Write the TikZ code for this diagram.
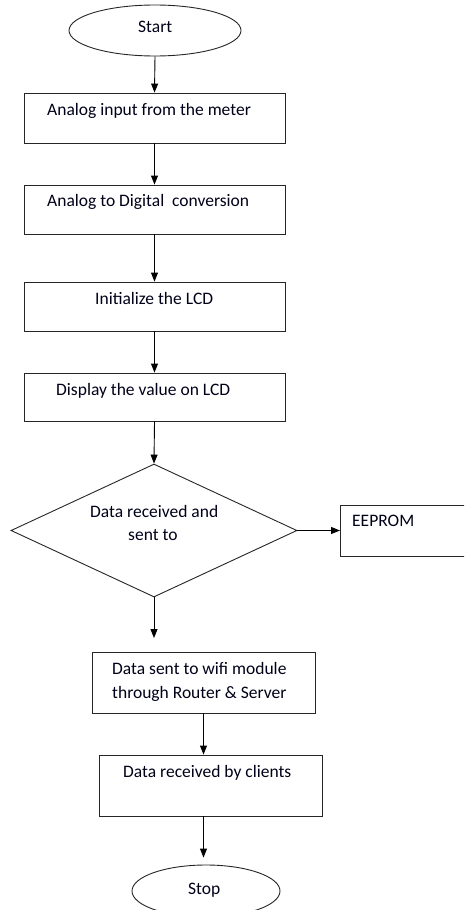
\documentclass[tikz,border=0pt]{standalone}
\usepackage{fontspec}
\setmainfont{Carlito}
\usetikzlibrary{shapes.geometric,arrows.meta}
\tikzset{
  shape line/.style={draw=black!85, line width=0.9pt},
  stepbox/.style={shape line, rectangle, inner sep=0pt},
  term/.style={shape line, ellipse, inner sep=0pt},
  decide/.style={shape line, diamond, inner sep=0pt},
  txt/.style={anchor=base west, inner sep=0pt, text=black!90!blue, font=\fontsize{17.5}{23.5}\selectfont},
  flow/.style={draw=black, line width=0.9pt, -{Triangle[width=7pt,length=9pt]}}
}
\begin{document}
\begin{tikzpicture}[x=1pt,y=-1pt]
\useasboundingbox (0,0) rectangle (464,910);
\clip (0,0) rectangle (464,910);
\fill[white] (0,0) rectangle (464,910);
% shapes
\node[term, minimum width=172, minimum height=51] (start) at (155,30.5) {};
\node[stepbox, minimum width=261, minimum height=50] (b1) at (154.5,118) {};
\node[stepbox, minimum width=261, minimum height=49] (b2) at (154.5,209.5) {};
\node[stepbox, minimum width=261, minimum height=49] (b3) at (154.5,306.5) {};
\node[stepbox, minimum width=261, minimum height=48] (b4) at (154.5,397) {};
\node[decide, minimum width=286, minimum height=133] (d) at (154,530.5) {};
\node[stepbox, minimum width=140, minimum height=51, anchor=west] (ee) at (340,530.5) {};
\node[stepbox, minimum width=223, minimum height=61] (b5) at (203.5,682.5) {};
\node[stepbox, minimum width=223, minimum height=61] (b6) at (210.5,785.5) {};
\node[term, minimum width=148, minimum height=52] (stop) at (206,891) {};
\coordinate (dend) at (154,638);
% texts
\node[txt] (tstart) at (138,32) {Start};
\node[txt] (t1) at (47,115.5) {Analog input from the meter};
\node[txt] (t2) at (47,206.5) {Analog to Digital\ \ conversion};
\node[txt] (t3) at (95,304) {Initialize the LCD};
\node[txt] (t4) at (56,395.5) {Display the value on LCD};
\node[txt] (td1) at (90,517.5) {Data received and};
\node[txt] (td2) at (128,540.5) {sent to};
\node[txt] (tee) at (352,526.5) {EEPROM};
\node[txt] (t5a) at (112,674) {Data sent to wifi module};
\node[txt] (t5b) at (112,698) {through Router \& Server};
\node[txt] (t6) at (123,777.5) {Data received by clients};
\node[txt] (tstop) at (188,894.5) {Stop};
% connectors
\draw[flow] (start.south) -- (b1.north);
\draw[flow] (b1.south) -- (b2.north);
\draw[flow] (b2.south) -- (b3.north);
\draw[flow] (b3.south) -- (b4.north);
\draw[flow] (b4.south) -- (d.north);
\draw[flow] (d.east) -- (ee.west);
\draw[flow] (d.south) -- (dend);
\draw[flow] (b5.south) -- (b5.south |- b6.north);
\draw[flow, shorten >=7pt] (b5.south |- b6.south) -- (b5.south |- stop.north);
\end{tikzpicture}
\end{document}
